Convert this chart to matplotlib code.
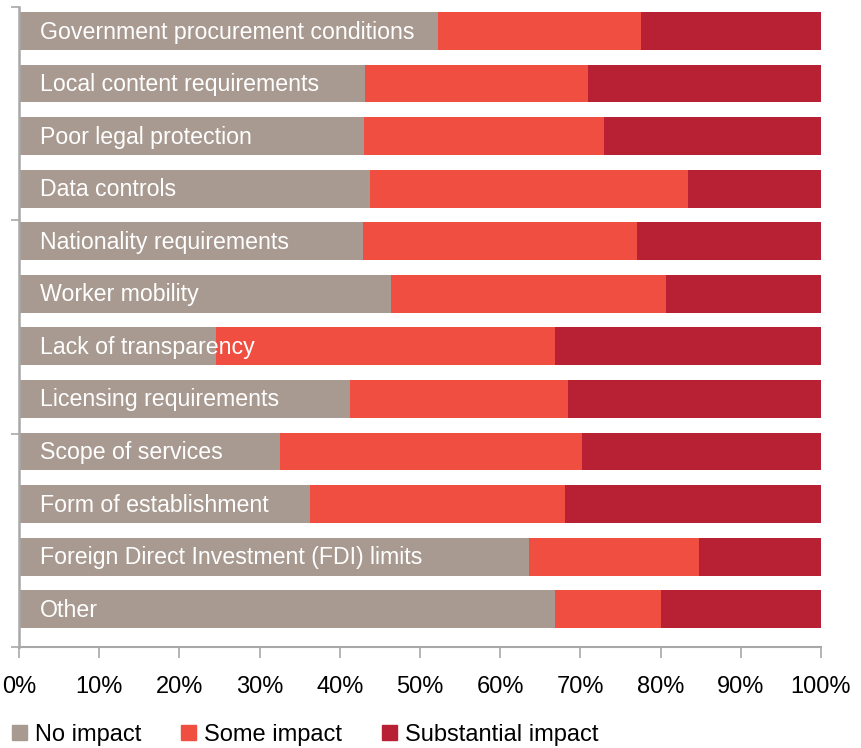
import numpy as np
import matplotlib.pyplot as plt
from matplotlib.patches import Patch
from matplotlib.ticker import FuncFormatter

plt.rcParams['font.family'] = ['Liberation Sans', 'DejaVu Sans']

categories = ["Government procurement conditions", "Local content requirements",
              "Poor legal protection", "Data controls", "Nationality requirements",
              "Worker mobility", "Lack of transparency", "Licensing requirements",
              "Scope of services", "Form of establishment",
              "Foreign Direct Investment (FDI) limits", "Other"]
no_impact = [52.2, 43.1, 43.0, 43.8, 42.9, 46.4, 24.6, 41.3, 32.5, 36.3, 63.6, 66.8]
some_impact = [25.4, 27.8, 29.9, 39.6, 34.2, 34.3, 42.2, 27.2, 37.7, 31.8, 21.2, 13.2]
substantial = [100 - a - b for a, b in zip(no_impact, some_impact)]

grey = '#A89A90'
red = '#F04E40'
dark = '#B82034'
axis_col = '#A8A8A8'

fig = plt.figure(figsize=(8.61, 7.48), dpi=100)
ax = fig.add_axes([19 / 861, 1 - 647 / 748, (821 - 19) / 861, 640 / 748])

y = np.arange(len(categories))
h = 0.72
ax.barh(y, no_impact, height=h, color=grey)
ax.barh(y, some_impact, left=no_impact, height=h, color=red)
ax.barh(y, substantial, left=np.add(no_impact, some_impact), height=h, color=dark)

for yi, name in zip(y, categories):
    ax.text(2.6, yi + 0.02, name, color='white', fontsize=16.7, va='center', ha='left')

top, bottom = -0.457, 11.72
ax.set_ylim(bottom, top)
ax.set_xlim(0, 100)
ax.set_yticks(np.linspace(top, bottom, 4))
ax.set_yticklabels([])
ax.set_xticks(np.arange(0, 101, 10))
ax.xaxis.set_major_formatter(FuncFormatter(lambda v, p: f"{v:.0f}%"))

for s in ['top', 'right']:
    ax.spines[s].set_visible(False)
ax.spines['left'].set_color(axis_col)
ax.spines['left'].set_linewidth(1.8)
ax.spines['bottom'].set_color(axis_col)
ax.spines['bottom'].set_linewidth(1.5)
ax.tick_params(axis='y', length=6, width=1.2, color=axis_col)
ax.tick_params(axis='x', length=8, width=1.2, color=axis_col, labelsize=17, pad=13)

handles = [Patch(color=grey, label='No impact'), Patch(color=red, label='Some impact'),
           Patch(color=dark, label='Substantial impact')]
fig.legend(handles=handles, loc='lower left', bbox_to_anchor=(-0.002, -0.016), ncol=3,
           frameon=False, fontsize=17, handlelength=0.62, handleheight=0.62,
           handletextpad=0.35, columnspacing=1.68, borderaxespad=0.2)

fig.savefig('out.png', dpi=100)
